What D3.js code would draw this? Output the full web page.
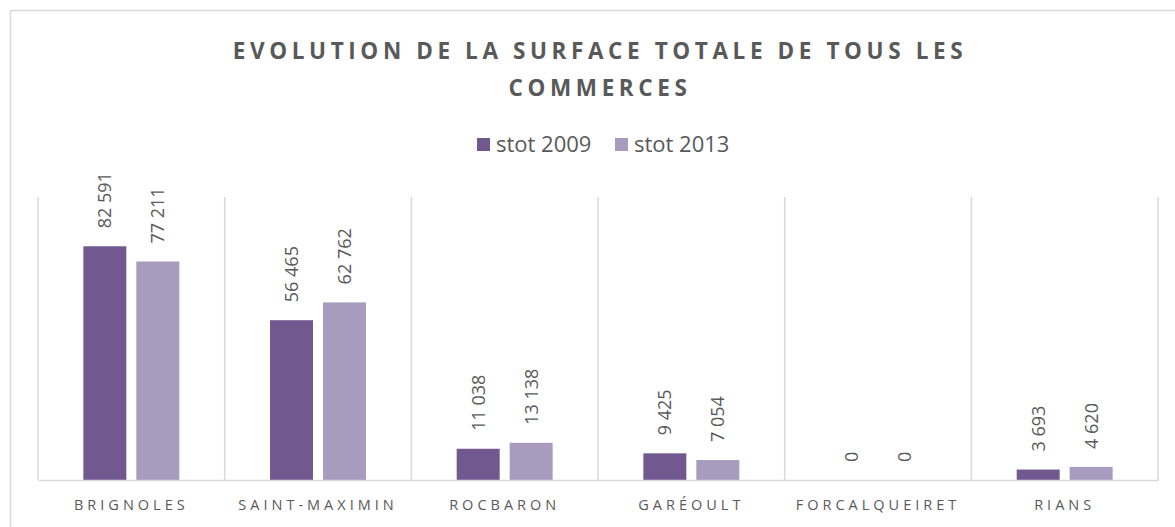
<!DOCTYPE html>
<html>
<head>
<meta charset="utf-8">
<script src="https://cdn.jsdelivr.net/npm/d3@7"></script>
<style>
  html, body { margin: 0; padding: 0; background: #fff; }
  svg { display: block; }
</style>
</head>
<body>
<svg id="chart" width="1175" height="527"></svg>
<script>
// Communes and surfaces (m²) for both survey years
const communes = ["BRIGNOLES", "SAINT-MAXIMIN", "ROCBARON", "GARÉOULT", "FORCALQUEIRET", "RIANS"];
const seriesNames = ["stot 2009", "stot 2013"];
const stot2009 = [82591, 56465, 11038, 9425, 0, 3693];
const stot2013 = [77211, 62762, 13138, 7054, 0, 4620];
const seriesColors = ["#71588f", "#a99bbd"];
const titleLines = ["EVOLUTION DE LA SURFACE TOTALE DE TOUS LES", "COMMERCES"];
const yMax = 100000;

const values = [stot2009, stot2013];
const svg = d3.select("#chart");
const W = 1175, H = 527;
const plot = { left: 38, right: 1158, top: 197, bottom: 480 };
const textColor = "#595959";
const gridColor = "#d9d9d9";
const font = "'Open Sans', sans-serif";

const fr = d3.formatLocale({ decimal: ",", thousands: " ", grouping: [3], currency: ["", " €"] });
const fmt = fr.format(",d");

// Chart area frame
svg.append("rect")
  .attr("x", 10.5).attr("y", 10.5)
  .attr("width", W).attr("height", H)
  .attr("fill", "none").attr("stroke", gridColor).attr("stroke-width", 1.5);

// Title
svg.append("g").selectAll("text").data(titleLines).join("text")
  .attr("x", 600).attr("y", (d, i) => 59 + i * 37)
  .attr("text-anchor", "middle")
  .attr("font-family", font)
  .attr("font-weight", 700).attr("font-size", 22.5)
  .attr("letter-spacing", 4.6)
  .attr("fill", textColor)
  .text(d => d);

// Legend
const legendItems = [
  { name: seriesNames[0], color: seriesColors[0], x: 477 },
  { name: seriesNames[1], color: seriesColors[1], x: 615 }
];
const lg = svg.append("g").selectAll("g").data(legendItems).join("g")
  .attr("transform", d => `translate(${d.x},138)`);
lg.append("rect").attr("width", 13).attr("height", 13).attr("fill", d => d.color);
lg.append("text")
  .attr("x", 19).attr("y", 14)
  .attr("font-family", font).attr("font-size", 22)
  .attr("fill", textColor)
  .text(d => d.name);

// Scales
const x0 = d3.scaleBand().domain(communes).range([plot.left, plot.right]).paddingInner(0).paddingOuter(0);
const x1 = d3.scaleBand().domain(seriesNames).range([0, x0.bandwidth()])
  .paddingInner(10 / 53).paddingOuter(0.856);
const y = d3.scaleLinear().domain([0, yMax]).range([plot.bottom, plot.top]);

// Vertical category separators
const sepX = communes.map(c => x0(c)).concat([plot.right]);
svg.append("g").selectAll("line").data(sepX).join("line")
  .attr("x1", d => d).attr("x2", d => d)
  .attr("y1", plot.top).attr("y2", plot.bottom)
  .attr("stroke", gridColor).attr("stroke-width", 1.5);

// Bars
const rows = communes.map((c, i) => ({ c, vals: seriesNames.map((s, j) => ({ s, j, v: values[j][i] })) }));
const groups = svg.append("g").selectAll("g").data(rows).join("g")
  .attr("transform", d => `translate(${x0(d.c)},0)`);

groups.selectAll("rect").data(d => d.vals).join("rect")
  .attr("x", d => x1(d.s)).attr("width", x1.bandwidth())
  .attr("y", d => y(d.v)).attr("height", d => y(0) - y(d.v))
  .attr("fill", d => seriesColors[d.j]);

// Value labels, rotated above each bar
groups.selectAll("text").data(d => d.vals).join("text")
  .attr("transform", d => `translate(${x1(d.s) + x1.bandwidth() / 2},${y(d.v) - 18}) rotate(-90)`)
  .attr("dy", "0.36em")
  .attr("text-anchor", "start")
  .attr("font-family", font).attr("font-size", 18)
  .attr("fill", textColor)
  .text(d => fmt(d.v));

// Baseline axis
const xAxis = d3.axisBottom(x0).tickSize(0).tickPadding(0);
const ax = svg.append("g").attr("transform", `translate(0,${plot.bottom})`).call(xAxis);
ax.select(".domain").attr("stroke", gridColor).attr("stroke-width", 1.5);
ax.selectAll(".tick text")
  .attr("y", 30).attr("dy", 0)
  .attr("font-family", font).attr("font-size", 14.5)
  .attr("letter-spacing", 4)
  .attr("fill", textColor);
</script>
</body>
</html>
